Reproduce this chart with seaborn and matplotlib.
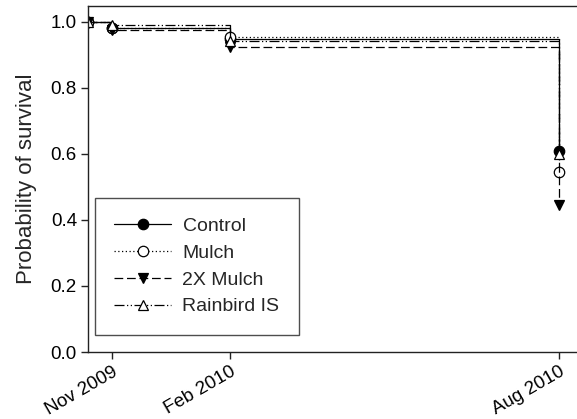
import matplotlib
matplotlib.use("Agg")
import matplotlib.pyplot as plt
import seaborn as sns
import pandas as pd

# ---- data ----
days = [0, 13, 78, 259]                      # days since start
tick_days = [13, 78, 259]
tick_labels = ["Nov 2009", "Feb 2010", "Aug 2010"]

control = [1.0, 0.982, 0.948, 0.61]
mulch = [1.0, 0.982, 0.955, 0.545]
mulch2x = [1.0, 0.976, 0.925, 0.445]
rainbird = [1.0, 0.99, 0.943, 0.60]

series_names = ["Control", "Mulch", "2X Mulch", "Rainbird IS"]
series_values = [control, mulch, mulch2x, rainbird]

sns.set_theme(style="ticks")
plt.rcParams["font.family"] = ["Liberation Sans", "DejaVu Sans"]

rows = []
for name, vals in zip(series_names, series_values):
    for d, v in zip(days, vals):
        rows.append({"day": d, "surv": v, "group": name})
df = pd.DataFrame(rows)

styles = {
    "Control": dict(linestyle="-", marker="o", markerfacecolor="black"),
    "Mulch": dict(linestyle=(0, (1, 2)), marker="o", markerfacecolor="white"),
    "2X Mulch": dict(linestyle=(0, (7, 3)), marker="v", markerfacecolor="black"),
    "Rainbird IS": dict(linestyle=(0, (8, 2, 1, 2, 1, 2)), marker="^", markerfacecolor="white"),
}

fig = plt.figure(figsize=(5.77, 4.19), dpi=100)
ax = fig.add_axes([88 / 577, 67 / 419, 1 - 88 / 577, (352 - 6) / 419])

for name in series_names:
    st = styles[name]
    sns.lineplot(data=df[df["group"] == name], x="day", y="surv", ax=ax,
                 estimator=None, sort=False, color="black",
                 drawstyle="steps-post", linewidth=0.9,
                 linestyle=st["linestyle"], marker=st["marker"],
                 markersize=7.5, markerfacecolor=st["markerfacecolor"],
                 markeredgecolor="black", markeredgewidth=0.9,
                 label=name, legend=False)

ax.set_xlim(0, 269)
ax.set_ylim(0, 1.048)
ax.set_xticks(tick_days)
ax.set_xticklabels(tick_labels, rotation=30, ha="right", rotation_mode="anchor",
                   fontsize=13.5)
ax.set_yticks([0.0, 0.2, 0.4, 0.6, 0.8, 1.0])
ax.set_yticklabels(["0.0", "0.2", "0.4", "0.6", "0.8", "1.0"], fontsize=13.5)
ax.tick_params(axis="both", direction="out", length=5, width=1, colors="#222222",
               labelcolor="black", pad=3)
ax.set_xlabel("")
ax.set_ylabel("Probability of survival", fontsize=16, labelpad=10)

for s in ["left", "bottom", "top"]:
    ax.spines[s].set_visible(True)
    ax.spines[s].set_color("#222222")
    ax.spines[s].set_linewidth(1.0)
ax.spines["right"].set_visible(False)

leg = ax.legend(loc="upper left", bbox_to_anchor=(7 / 489, (352 - 198) / 346),
                borderaxespad=0, frameon=True, fancybox=False, fontsize=14,
                handlelength=2.9, handletextpad=0.6, labelspacing=0.47,
                borderpad=1.0)
leg.get_frame().set_edgecolor("#222222")
leg.get_frame().set_linewidth(1.0)

fig.savefig("out.png", dpi=100)
